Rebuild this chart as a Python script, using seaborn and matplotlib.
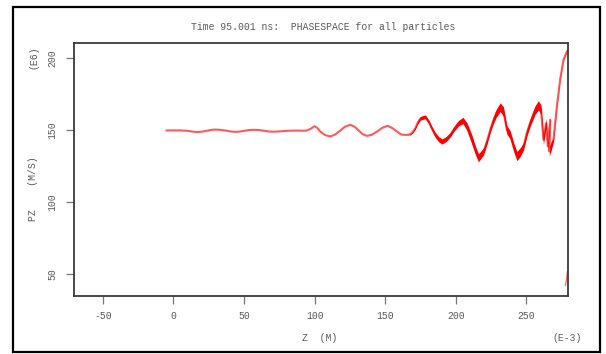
import matplotlib
matplotlib.use("Agg")
import matplotlib.pyplot as plt
import matplotlib.patches as mpatches
import pandas as pd
import seaborn as sns

# ---- data ----
z_main = [-5, 5, 10, 14, 17, 20, 24, 27, 30, 33, 37, 41, 44, 47, 50, 54, 57,
          60, 64, 68, 71, 75, 80, 86, 94,
          97, 99.9, 102, 104, 107.5, 111.2, 114.5, 118.2, 121.5, 125.3, 128.5,
          131.2, 134, 137.1, 140.5, 144.2, 148, 151.7, 155, 158.3, 161, 163,
          165.5, 167.7, 169.5, 171.3, 173, 174.8, 177.2, 178.4, 180.7, 183,
          185.4, 187.8, 190.2, 193, 196, 199, 201.9, 205, 207.8, 209.5, 211.4,
          213.7, 216, 219.6, 222, 224.3, 226.5, 228.6, 231.4, 233.7, 236.1,
          238.5, 240.8, 243.2, 245.5, 247.9, 250.3, 252.6, 256.2, 258.5,
          260.3, 262, 263.9, 265.1, 266.8, 266.1, 267.6, 269.1, 271.5, 273.8,
          276.2, 278.6, 279.2]
pz_main = [149.6, 149.6, 149.3, 148.7, 148.5, 148.7, 149.4, 150.0, 150.2,
           150.0, 149.5, 148.8, 148.6, 148.8, 149.3, 149.9, 150.0, 149.9,
           149.4, 148.8, 148.7, 148.9, 149.3, 149.5, 149.4,
           150.6, 152.5, 151.2, 148.8, 146.3, 145.4, 146.8, 149.5, 152.2,
           153.5, 152.0, 149.5, 147.0, 145.8, 146.6, 148.8, 151.5, 152.8,
           151.2, 148.8, 146.9, 146.5, 146.5, 146.9, 148.5, 151.2, 155.0,
           157.9, 158.7, 159.0, 155.7, 151.0, 146.5, 143.5, 141.9, 143.5,
           146.5, 151.0, 154.6, 156.5, 152.3, 148.0, 143.1, 136.2, 130.6,
           135.0, 142.0, 150.0, 156.5, 161.5, 165.7, 162.7, 150.0, 146.5,
           138.5, 131.8, 134.5, 138.5, 148.0, 155.0, 163.9, 167.0, 163.9,
           143.1, 154.6, 138.5, 156.9, 135.0, 139.0, 143.1, 166.1, 184.6,
           198.5, 204.3, 205.0]
# half-width of the particle band (pz units), one per point above
pz_spread = [0.0] * 48 + [
    0.3, 0.5, 0.8, 1.0, 1.2, 1.3, 1.3,
    1.3, 1.5, 1.7, 1.8, 1.8, 1.7, 1.5, 1.6, 1.9, 2.2,
    2.6, 3.0, 3.2, 3.0, 2.8, 2.4, 2.1, 2.1, 2.4, 2.8,
    3.0, 3.2, 3.0, 2.8, 3.0, 3.2, 3.0, 2.6, 2.4, 2.6,
    3.0, 3.2, 3.2, 3.2, 3.2, 3.2, 3.2, 3.2, 2.9, 1.4,
    0.7, 0.4, 0.3, 0.3, 0.3]

z_tail = [277.5, 278.3, 279.0]
pz_tail = [42.0, 46.0, 52.0]

x_ticks = [-50, 0, 50, 100, 150, 200, 250]
y_ticks = [50, 100, 150, 200]

title = "Time 95.001 ns:  PHASESPACE for all particles"
xlabel = "Z  (M)"
xscale_lbl = "(E-3)"
ylabel = "PZ    (M/S)"
yscale_lbl = "(E6)"

# ---- plotting ----
sns.set_theme(style="white")
plt.rcParams['font.family'] = ['Liberation Mono', 'DejaVu Sans Mono']

W, H = 606, 354
fig = plt.figure(figsize=(W / 100, H / 100), dpi=100)
ax = fig.add_axes([74 / W, 1 - 296 / H, (568 - 74) / W, (296 - 43) / H])

df = pd.DataFrame({"z": z_main, "pz": pz_main, "s": pz_spread})
sns.lineplot(data=df, x="z", y="pz", sort=False, estimator=None,
             color="#ff5a5a", linewidth=1.5, ax=ax)
ax.fill_between(df.z, df.pz - df.s, df.pz + df.s, color="#ff0000",
                linewidth=0, zorder=3)
tail = pd.DataFrame({"z": z_tail, "pz": pz_tail})
sns.lineplot(data=tail, x="z", y="pz", sort=False, estimator=None,
             color="#ff7070", linewidth=1.0, ax=ax)

ax.set_xlim(-70.4, 279.4)
ax.set_ylim(34.8, 210.2)
ax.set_xticks(x_ticks)
ax.set_yticks(y_ticks)
ax.set_xticklabels([str(v) for v in x_ticks])
ax.set_yticklabels([str(v) for v in y_ticks], rotation=90, va="center")
ax.set_xlabel("")
ax.set_ylabel("")

txt_col = "#5a5a5a"
ax.tick_params(axis="x", direction="out", length=6, width=0.9, color="#777777",
               labelsize=7, labelcolor=txt_col, pad=5, bottom=True)
ax.tick_params(axis="y", direction="out", length=6, width=0.9, color="#777777",
               labelsize=7, labelcolor=txt_col, pad=6, left=True)
for sp in ax.spines.values():
    sp.set_visible(True)
    sp.set_color("#3a3a3a")
    sp.set_linewidth(1.3)
    sp.set_zorder(4)

fig.text(323.5 / W, 1 - 27 / H, title, ha="center", va="center",
         fontsize=7, color=txt_col)
fig.text(320 / W, 1 - 338 / H, xlabel, ha="center", va="center",
         fontsize=7, color=txt_col)
fig.text(582 / W, 1 - 338 / H, xscale_lbl, ha="right", va="center",
         fontsize=7, color=txt_col)
fig.text(33 / W, 1 - 189 / H, ylabel, ha="center", va="center",
         fontsize=7, color=txt_col, rotation=90)
fig.text(33 / W, 1 - 57 / H, yscale_lbl, ha="center", va="center",
         fontsize=7, color=txt_col, rotation=90)

fig.patches.append(mpatches.Rectangle((13 / W, 1 - 352 / H),
                                      (600 - 13) / W, (352 - 7) / H,
                                      transform=fig.transFigure, fill=False,
                                      edgecolor="black", linewidth=1.6))

fig.savefig("out.png", dpi=100)
